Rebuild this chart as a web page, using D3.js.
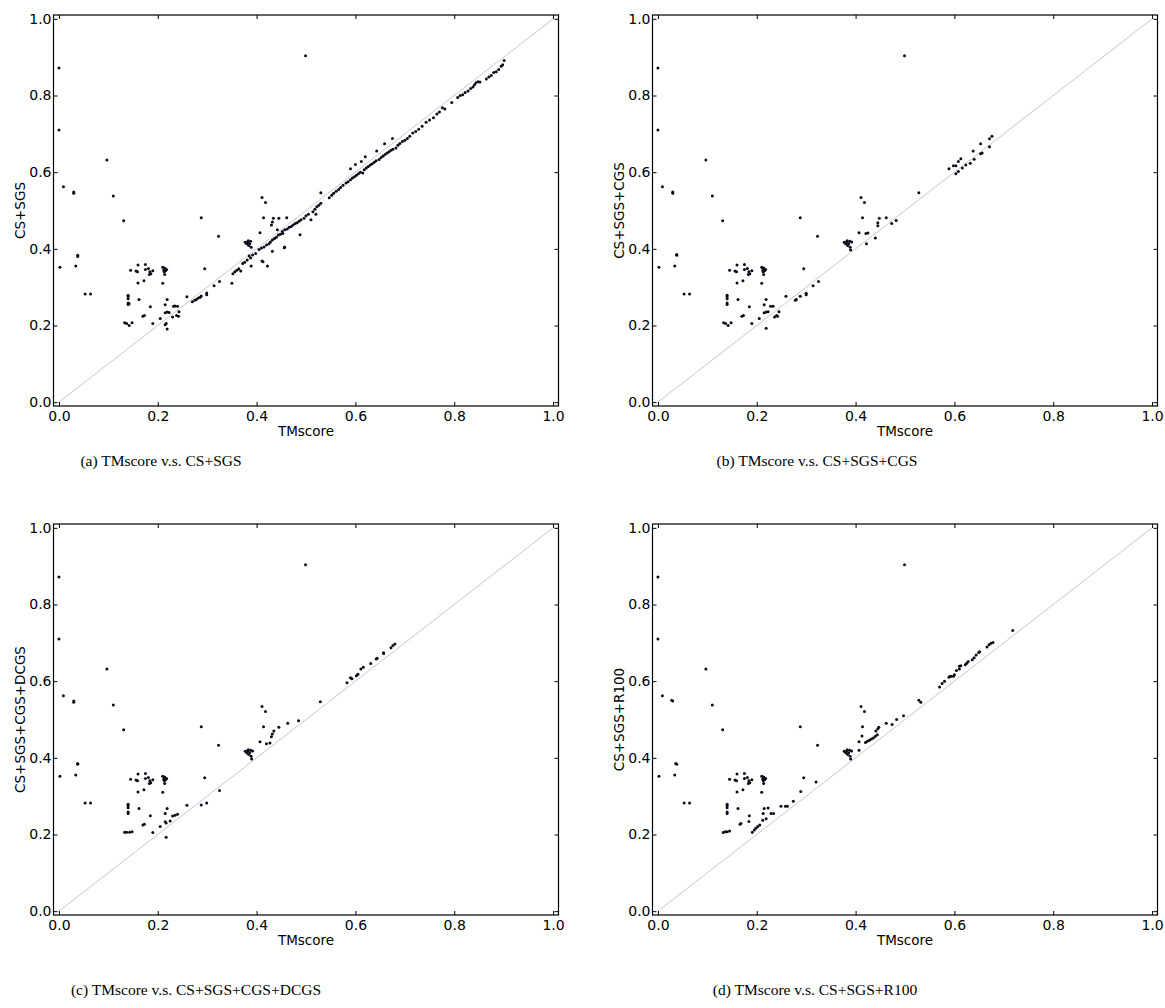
<!DOCTYPE html>
<html><head><meta charset="utf-8">
<script src="https://cdn.jsdelivr.net/npm/d3@7/dist/d3.min.js"></script>
<style>body{margin:0;background:#fff}</style>
</head><body>
<script>
const xTicks = [0, 0.2, 0.4, 0.6, 0.8, 1.0];
const yTicks = [0, 0.2, 0.4, 0.6, 0.8, 1.0];
const xLabel = "TMscore";
const yLabels = ["CS+SGS", "CS+SGS+CGS", "CS+SGS+CGS+DCGS", "CS+SGS+R100"];
const captions = ["(a) TMscore v.s. CS+SGS", "(b) TMscore v.s. CS+SGS+CGS",
                  "(c) TMscore v.s. CS+SGS+CGS+DCGS", "(d) TMscore v.s. CS+SGS+R100"];
const diagonal = [[0, 0], [1, 1]];

// points common to all four panels
const sharedPoints = [
[0.000,0.872],[0.000,0.710],[0.009,0.562],[0.030,0.548],[0.097,0.632],[0.110,0.538],[0.002,0.352],[0.034,0.355],
[0.038,0.383],[0.053,0.282],[0.064,0.282],[0.131,0.473],[0.140,0.279],[0.140,0.275],[0.140,0.270],[0.140,0.259],
[0.140,0.255],[0.145,0.344],[0.156,0.342],[0.159,0.340],[0.160,0.358],[0.160,0.311],[0.162,0.268],[0.172,0.317],
[0.175,0.359],[0.175,0.346],[0.181,0.349],[0.184,0.340],[0.186,0.335],[0.190,0.343],[0.183,0.333],[0.185,0.249],
[0.210,0.352],[0.212,0.345],[0.214,0.350],[0.216,0.343],[0.218,0.346],[0.213,0.340],[0.210,0.310],[0.214,0.333],
[0.288,0.481],[0.295,0.348],[0.323,0.433],[0.377,0.417],[0.380,0.413],[0.382,0.418],[0.384,0.409],[0.386,0.413],
[0.388,0.420],[0.389,0.404],[0.383,0.421],[0.407,0.442],[0.411,0.534],[0.418,0.521],[0.414,0.481],[0.499,0.904]
];

const pointsA = [
[0.030,0.545],[0.038,0.380],[0.142,0.257],[0.133,0.207],[0.137,0.205],[0.142,0.200],[0.148,0.207],[0.170,0.224],
[0.173,0.226],[0.190,0.205],[0.215,0.254],[0.215,0.233],[0.219,0.235],[0.217,0.205],[0.215,0.202],[0.219,0.191],
[0.219,0.268],[0.223,0.234],[0.205,0.218],[0.230,0.222],[0.232,0.250],[0.235,0.251],[0.238,0.226],[0.242,0.224],
[0.243,0.236],[0.240,0.250],[0.259,0.275],[0.270,0.262],[0.275,0.266],[0.278,0.268],[0.282,0.272],[0.286,0.274],
[0.288,0.277],[0.299,0.285],[0.299,0.280],[0.314,0.304],[0.325,0.315],[0.350,0.310],[0.352,0.335],[0.356,0.340],
[0.360,0.344],[0.364,0.348],[0.368,0.342],[0.372,0.362],[0.376,0.365],[0.381,0.371],[0.385,0.381],[0.388,0.376],
[0.392,0.384],[0.398,0.388],[0.389,0.355],[0.411,0.368],[0.413,0.366],[0.422,0.355],[0.405,0.398],[0.410,0.402],
[0.415,0.405],[0.420,0.410],[0.425,0.413],[0.428,0.418],[0.432,0.423],[0.436,0.427],[0.440,0.430],[0.444,0.436],
[0.448,0.438],[0.430,0.462],[0.432,0.470],[0.434,0.480],[0.445,0.480],[0.432,0.394],[0.456,0.403],[0.453,0.440],
[0.461,0.481],[0.442,0.450],[0.452,0.445],[0.457,0.450],[0.462,0.452],[0.466,0.456],[0.470,0.458],[0.474,0.462],
[0.478,0.466],[0.482,0.468],[0.486,0.472],[0.490,0.476],[0.488,0.437],[0.457,0.405],[0.496,0.480],[0.500,0.486],
[0.505,0.490],[0.510,0.476],[0.514,0.497],[0.518,0.503],[0.522,0.510],[0.526,0.514],[0.530,0.519],[0.520,0.490],
[0.530,0.546],[0.547,0.533],[0.552,0.540],[0.556,0.545],[0.561,0.550],[0.566,0.555],[0.570,0.560],[0.575,0.566],
[0.581,0.572],[0.585,0.575],[0.590,0.580],[0.590,0.609],[0.594,0.585],[0.598,0.588],[0.600,0.620],[0.602,0.592],
[0.606,0.596],[0.610,0.600],[0.615,0.598],[0.612,0.628],[0.620,0.640],[0.618,0.606],[0.622,0.611],[0.626,0.615],
[0.630,0.619],[0.634,0.622],[0.638,0.626],[0.643,0.655],[0.642,0.630],[0.648,0.633],[0.652,0.638],[0.656,0.642],
[0.659,0.674],[0.660,0.646],[0.664,0.650],[0.668,0.653],[0.672,0.657],[0.675,0.688],[0.676,0.660],[0.682,0.663],
[0.686,0.670],[0.690,0.675],[0.695,0.680],[0.700,0.683],[0.705,0.688],[0.710,0.694],[0.716,0.702],[0.722,0.706],
[0.728,0.712],[0.735,0.720],[0.743,0.730],[0.750,0.736],[0.758,0.742],[0.765,0.752],[0.770,0.757],[0.776,0.768],
[0.781,0.765],[0.795,0.782],[0.807,0.795],[0.812,0.800],[0.817,0.802],[0.822,0.808],[0.828,0.812],[0.833,0.818],
[0.838,0.822],[0.841,0.828],[0.844,0.833],[0.848,0.836],[0.852,0.835],[0.865,0.843],[0.870,0.848],[0.875,0.852],
[0.880,0.860],[0.885,0.862],[0.890,0.868],[0.895,0.876],[0.898,0.880],[0.901,0.891]
];

const pointsB = [
[0.030,0.545],[0.038,0.385],[0.133,0.207],[0.137,0.205],[0.142,0.200],[0.148,0.207],[0.170,0.224],[0.173,0.226],
[0.190,0.205],[0.215,0.254],[0.215,0.233],[0.219,0.235],[0.219,0.193],[0.205,0.218],[0.219,0.268],[0.223,0.236],
[0.228,0.250],[0.233,0.250],[0.236,0.222],[0.240,0.226],[0.242,0.224],[0.245,0.236],[0.259,0.276],[0.278,0.266],
[0.280,0.268],[0.288,0.276],[0.300,0.284],[0.300,0.280],[0.314,0.304],[0.325,0.315],[0.390,0.397],[0.392,0.418],
[0.421,0.440],[0.425,0.441],[0.422,0.413],[0.440,0.428],[0.445,0.460],[0.445,0.468],[0.448,0.480],[0.462,0.481],
[0.473,0.466],[0.482,0.474],[0.528,0.546],[0.589,0.609],[0.598,0.617],[0.603,0.617],[0.603,0.596],[0.608,0.602],
[0.608,0.628],[0.613,0.635],[0.616,0.611],[0.623,0.619],[0.632,0.623],[0.638,0.655],[0.640,0.634],[0.653,0.674],
[0.653,0.648],[0.656,0.650],[0.671,0.687],[0.676,0.694],[0.671,0.666]
];

const pointsC = [
[0.030,0.545],[0.038,0.385],[0.133,0.206],[0.137,0.206],[0.143,0.206],[0.148,0.207],[0.170,0.225],[0.173,0.227],
[0.190,0.205],[0.205,0.221],[0.215,0.255],[0.219,0.268],[0.217,0.230],[0.215,0.233],[0.225,0.235],[0.217,0.193],
[0.230,0.248],[0.235,0.250],[0.240,0.253],[0.259,0.276],[0.288,0.277],[0.299,0.282],[0.325,0.315],[0.390,0.397],
[0.392,0.418],[0.420,0.437],[0.427,0.439],[0.430,0.455],[0.432,0.462],[0.435,0.470],[0.445,0.480],[0.463,0.490],
[0.485,0.497],[0.529,0.546],[0.583,0.596],[0.590,0.609],[0.593,0.606],[0.602,0.614],[0.605,0.618],[0.611,0.632],
[0.616,0.636],[0.631,0.646],[0.642,0.658],[0.644,0.660],[0.657,0.674],[0.657,0.672],[0.672,0.687],[0.676,0.693],
[0.680,0.697]
];

const pointsD = [
[0.028,0.550],[0.036,0.385],[0.132,0.205],[0.136,0.207],[0.140,0.207],[0.145,0.209],[0.166,0.227],[0.168,0.229],
[0.184,0.234],[0.191,0.206],[0.195,0.212],[0.198,0.216],[0.202,0.221],[0.206,0.225],[0.213,0.255],[0.215,0.268],
[0.212,0.237],[0.219,0.241],[0.223,0.269],[0.229,0.255],[0.234,0.255],[0.249,0.274],[0.258,0.274],[0.262,0.274],
[0.274,0.287],[0.289,0.312],[0.320,0.337],[0.390,0.397],[0.392,0.418],[0.407,0.420],[0.413,0.457],[0.420,0.440],
[0.424,0.443],[0.428,0.446],[0.432,0.449],[0.436,0.452],[0.440,0.456],[0.444,0.460],[0.441,0.470],[0.445,0.476],
[0.447,0.480],[0.462,0.490],[0.474,0.487],[0.483,0.500],[0.497,0.510],[0.528,0.550],[0.532,0.545],[0.570,0.585],
[0.575,0.594],[0.580,0.600],[0.589,0.610],[0.591,0.612],[0.593,0.613],[0.598,0.613],[0.600,0.617],[0.604,0.628],
[0.610,0.632],[0.610,0.639],[0.613,0.640],[0.622,0.643],[0.625,0.647],[0.628,0.651],[0.636,0.656],[0.640,0.661],
[0.644,0.668],[0.649,0.675],[0.651,0.677],[0.666,0.689],[0.670,0.695],[0.674,0.699],[0.678,0.701],[0.718,0.732]
];

const W = 1165, H = 1008;
const svg = d3.select("body").append("svg").attr("width", W).attr("height", H);
svg.append("rect").attr("width", W).attr("height", H).attr("fill", "#fff");

const PW = 505, PH = 391;
const panels = [
  {x0: 53.5, y0: 15, pts: pointsA, yl: yLabels[0], cap: captions[0], capX: 161, capY: 466},
  {x0: 652.5, y0: 15, pts: pointsB, yl: yLabels[1], cap: captions[1], capX: 817, capY: 466},
  {x0: 53.5, y0: 524, pts: pointsC, yl: yLabels[2], cap: captions[2], capX: 196, capY: 995},
  {x0: 652.5, y0: 524, pts: pointsD, yl: yLabels[3], cap: captions[3], capX: 815, capY: 995}
];

const fmt = d3.format(".1f");
const SANS = "DejaVu Sans";
panels.forEach(p => {
  const x = d3.scaleLinear().domain([-0.011, 1.011]).range([p.x0, p.x0 + PW]);
  const y = d3.scaleLinear().domain([-0.01, 1.01]).range([p.y0 + PH, p.y0]);
  const g = svg.append("g");

  g.append("path").datum(diagonal)
    .attr("d", d3.line().x(d => x(d[0])).y(d => y(d[1])))
    .attr("stroke", "#c8c8c8").attr("stroke-width", 1).attr("fill", "none");

  g.selectAll("circle.pt").data(sharedPoints.concat(p.pts)).join("circle")
    .attr("class", "pt")
    .attr("cx", d => x(d[0])).attr("cy", d => y(d[1])).attr("r", 1.5)
    .attr("fill", "#0b0b1a");

  const bottom = g.append("g").attr("transform", `translate(0,${p.y0 + PH})`)
    .call(d3.axisBottom(x).tickValues(xTicks).tickFormat(fmt).tickSize(-4).tickSizeOuter(0).tickPadding(5));
  const left = g.append("g").attr("transform", `translate(${p.x0},0)`)
    .call(d3.axisLeft(y).tickValues(yTicks).tickFormat(fmt).tickSize(-4).tickSizeOuter(0).tickPadding(2));
  const top = g.append("g").attr("transform", `translate(0,${p.y0})`)
    .call(d3.axisTop(x).tickValues(xTicks).tickFormat("").tickSize(-4).tickSizeOuter(0));
  const right = g.append("g").attr("transform", `translate(${p.x0 + PW},0)`)
    .call(d3.axisRight(y).tickValues(yTicks).tickFormat("").tickSize(-4).tickSizeOuter(0));
  [bottom, left, top, right].forEach(a => {
    a.attr("font-family", SANS).attr("font-size", 14);
    a.select(".domain").remove();
    a.selectAll(".tick line").attr("stroke", "#000").attr("stroke-width", 1);
    a.selectAll("text").attr("fill", "#000");
  });

  g.append("rect").attr("x", p.x0).attr("y", p.y0).attr("width", PW).attr("height", PH)
    .attr("fill", "none").attr("stroke", "#000").attr("stroke-width", 1.2);

  g.append("text").attr("x", p.x0 + PW / 2).attr("y", p.y0 + PH + 30)
    .attr("text-anchor", "middle").attr("font-family", SANS).attr("font-size", 13.5).text(xLabel);
  g.append("text").attr("transform", `translate(${p.x0 - 29},${p.y0 + PH / 2}) rotate(-90)`)
    .attr("text-anchor", "middle").attr("font-family", SANS).attr("font-size", 13.5).text(p.yl);

  svg.append("text").attr("x", p.capX).attr("y", p.capY).attr("text-anchor", "middle")
    .attr("font-family", "Liberation Serif").attr("font-size", 15.5)
    .text(p.cap);
});
</script>
</body></html>
